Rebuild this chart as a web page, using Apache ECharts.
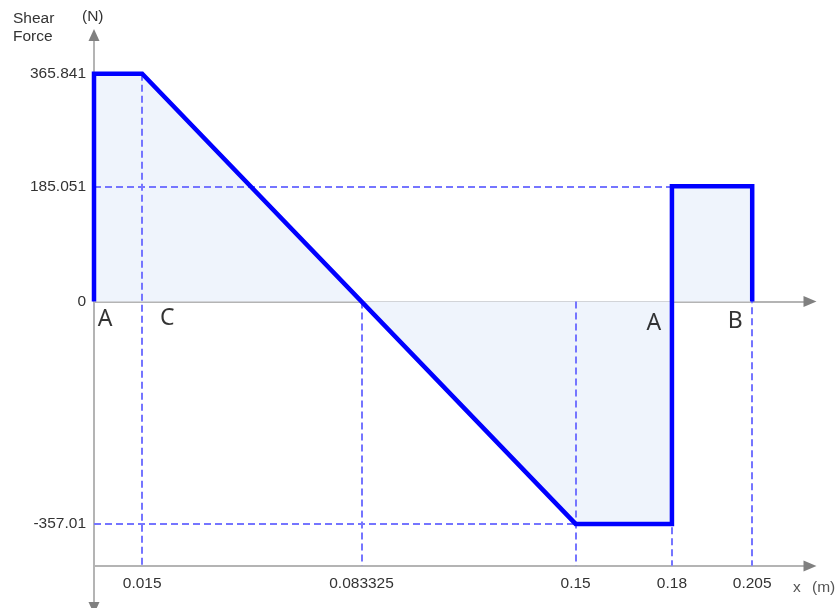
<!DOCTYPE html>
<html>
<head>
<meta charset="utf-8">
<script src="https://cdn.jsdelivr.net/npm/echarts@6/dist/echarts.min.js"></script>
<style>
html,body{margin:0;padding:0;background:#fff;}
#chart{width:837px;height:608px;}
</style>
</head>
<body>
<div id="chart"></div>
<script>
// ---- data ----
var shearX = [0, 0, 0.015, 0.15, 0.18, 0.18, 0.205, 0.205];
var shearV = [0, 365.841, 365.841, -357.01, -357.01, 185.051, 185.051, 0];
var xTickValues = [0.015, 0.083325, 0.15, 0.18, 0.205];
var xTickLabels = ['0.015', '0.083325', '0.15', '0.18', '0.205'];
var yTickValues = [365.841, 185.051, 0, -357.01];
var yTickLabels = ['365.841', '185.051', '0', '-357.01'];
var guideBottom = -424;
var vGuideX = [0.015, 0.083325, 0.15, 0.18, 0.205];
var vGuideFrom = [365.841, 0, 0, 185.051, 185.051];
var hGuideY = [185.051, -357.01];
var hGuideTo = [0.18, 0.15];
var pointNames = ['A', 'C', 'A', 'B'];
var pointX = [0, 0.015, 0.18, 0.205];

var xMin = 0, xMax = 0.223, yMin = -492, yMax = 428;

var chart = echarts.init(document.getElementById('chart'), null, {renderer: 'canvas'});

var lineData = shearX.map(function (x, i) { return [x, shearV[i]]; });
var guides = [];
vGuideX.forEach(function (x, i) {
  guides.push([{coord: [x, vGuideFrom[i]]}, {coord: [x, guideBottom]}]);
});
hGuideY.forEach(function (y, i) {
  guides.push([{coord: [0, y]}, {coord: [hGuideTo[i], y]}]);
});
var labelOffsets = [[11, 18], [25, 17], [-18, 22], [-17, 20]];
var labelData = pointX.map(function (x, i) {
  return {value: [x, 0], label: {formatter: pointNames[i], offset: labelOffsets[i]}};
});

var axisGray = '#b4b4b4';
var arrowGray = '#808080';
var txt = '#333';
var fontFam = 'Liberation Sans, Arial, sans-serif';

function xBase(extra) {
  return Object.assign({
    type: 'value', min: xMin, max: xMax, gridIndex: 0,
    splitLine: {show: false}, axisTick: {show: false}, axisLabel: {show: false}
  }, extra);
}
function yBase(extra) {
  return Object.assign({
    type: 'value', min: yMin, max: yMax, gridIndex: 0, position: 'left',
    splitLine: {show: false}, axisTick: {show: false}, axisLabel: {show: false}
  }, extra);
}

var option = {
  animation: false,
  backgroundColor: '#ffffff',
  title: [
    {text: 'Shear\nForce', left: 8, top: 5, textStyle: {fontSize: 15.5, fontWeight: 'normal', color: txt, fontFamily: fontFam, lineHeight: 18}},
    {text: '(N)', left: 77, top: 4, textStyle: {fontSize: 15.5, fontWeight: 'normal', color: txt, fontFamily: fontFam}},
    {text: 'x', left: 788, top: 575, textStyle: {fontSize: 15.5, fontWeight: 'normal', color: '#555', fontFamily: fontFam}},
    {text: '(m)', left: 807, top: 575, textStyle: {fontSize: 15.5, fontWeight: 'normal', color: '#555', fontFamily: fontFam}}
  ],
  grid: {left: 94, top: 35, width: 716, height: 575, containLabel: false},
  xAxis: [
    xBase({axisLine: {show: true, onZero: true, onZeroAxisIndex: 0, lineStyle: {color: axisGray, width: 2}}}),
    xBase({position: 'bottom', offset: -42,
      axisLine: {show: true, onZero: false, lineStyle: {color: axisGray, width: 2}},
      axisLabel: {show: true, customValues: xTickValues, margin: 10, fontSize: 15.5, color: txt, fontFamily: fontFam,
        formatter: function (v) { var i = xTickValues.indexOf(v); return i >= 0 ? xTickLabels[i] : ''; }}}),
    xBase({axisLine: {show: true, onZero: true, onZeroAxisIndex: 0, symbol: ['none', 'triangle'], symbolSize: [11, 13], lineStyle: {color: arrowGray, width: 0}}}),
    xBase({position: 'bottom', offset: -42,
      axisLine: {show: true, onZero: false, symbol: ['none', 'triangle'], symbolSize: [11, 13], lineStyle: {color: arrowGray, width: 0}}})
  ],
  yAxis: [
    yBase({axisLine: {show: true, onZero: false, lineStyle: {color: axisGray, width: 2}},
      axisLabel: {show: true, customValues: yTickValues, margin: 8, fontSize: 15.5, color: txt, fontFamily: fontFam,
        formatter: function (v) { var i = yTickValues.indexOf(v); return i >= 0 ? yTickLabels[i] : ''; }}}),
    yBase({axisLine: {show: true, onZero: false, symbol: ['triangle', 'triangle'], symbolSize: [11, 12], lineStyle: {color: arrowGray, width: 0}}})
  ],
  series: [
    {
      type: 'line', xAxisIndex: 0, yAxisIndex: 0, data: lineData, z: 1,
      showSymbol: false, clip: false, silent: true,
      lineStyle: {width: 0, color: 'rgba(0,0,0,0)'},
      areaStyle: {color: '#eff4fc', opacity: 1}
    },
    {
      type: 'line', xAxisIndex: 0, yAxisIndex: 0, data: [], z: 2,
      markLine: {
        z: 2, silent: true, symbol: ['none', 'none'], label: {show: false},
        lineStyle: {color: '#7575ff', width: 2, type: [7, 4]},
        data: guides
      }
    },
    {
      type: 'line', xAxisIndex: 0, yAxisIndex: 0, data: lineData, z: 3,
      showSymbol: false, clip: false, silent: true,
      lineStyle: {width: 4.5, color: '#0000ff', join: 'miter', cap: 'butt'}
    },
    {
      type: 'scatter', xAxisIndex: 0, yAxisIndex: 0, data: labelData, z: 4,
      symbolSize: 1, itemStyle: {color: 'rgba(0,0,0,0)'}, silent: true,
      label: {show: true, position: 'inside', color: '#000', fontSize: 23, fontFamily: 'Noto Sans, sans-serif'}
    }
  ]
};
chart.setOption(option);
</script>
</body>
</html>
